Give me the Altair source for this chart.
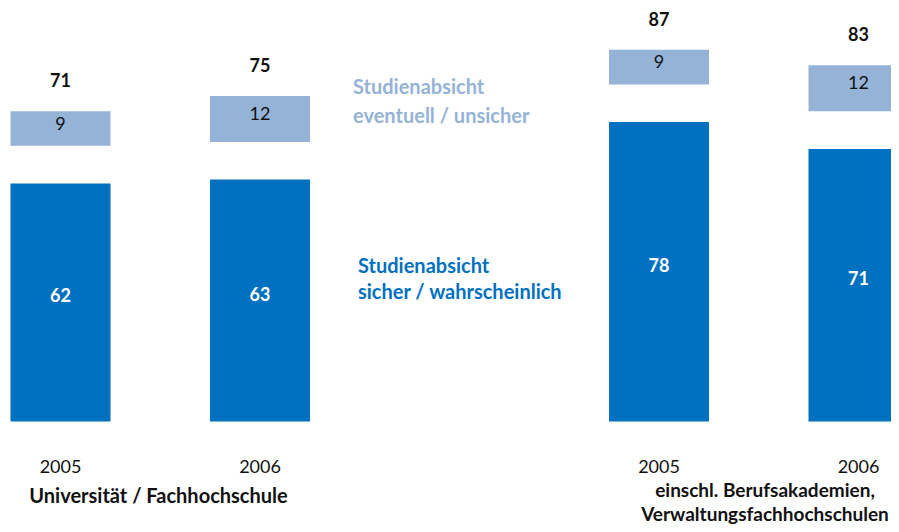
import altair as alt
import pandas as pd

# ---- data ----
group_keys = ["U", "U", "B", "B"]
years = ["2005", "2006", "2005", "2006"]
sicher = [62, 63, 78, 71]          # Studienabsicht sicher / wahrscheinlich
eventuell = [9, 12, 9, 12]         # Studienabsicht eventuell / unsicher
totals = [71, 75, 87, 83]
slot_order = ["U-2005", "U-2006", "gap", "B-2005", "B-2006"]

# ---- layout constants ----
GAP = 9.8            # visual gap (in value units) between the two stacked pieces
DARK = "#0070C0"
LIGHT = "#95B3D7"
FONT = "Lato"

keys = [f"{g}-{y}" for g, y in zip(group_keys, years)]
df = pd.DataFrame({
    "key": keys,
    "year": years,
    "sicher": sicher,
    "eventuell": eventuell,
    "total": totals,
})
df["zero"] = 0
df["s_mid"] = df["sicher"] / 2
df["e_lo"] = df["sicher"] + GAP
df["e_hi"] = df["e_lo"] + df["eventuell"]
df["e_mid"] = (df["e_lo"] + df["e_hi"]) / 2

W, H = 883, 516
xscale = alt.Scale(type="point", domain=slot_order, range=[52.5, 850.5], padding=0)
yscale = alt.Scale(domain=[-26.7, 107.7], nice=False, zero=False)
X = alt.X("key:N", scale=xscale, axis=None)

base = alt.Chart(df)

dark_bars = base.mark_bar(size=100, color=DARK).encode(
    x=X, y=alt.Y("zero:Q", scale=yscale, axis=None), y2="sicher:Q"
)
light_bars = base.mark_bar(size=100, color=LIGHT).encode(
    x=X, y=alt.Y("e_lo:Q", scale=yscale, axis=None), y2="e_hi:Q"
)
dark_labels = base.mark_text(
    font=FONT, fontSize=18, fontWeight="bold", color="white", baseline="middle", dy=-5
).encode(x=X, y=alt.Y("s_mid:Q", scale=yscale), text="sicher:Q")
light_labels = base.mark_text(
    font=FONT, fontSize=18, color="#111111", baseline="middle", dy=-4
).encode(x=X, y=alt.Y("e_mid:Q", scale=yscale), text="eventuell:Q")
total_labels = base.mark_text(
    font=FONT, fontSize=18, fontWeight="bold", color="#111111", baseline="middle", dy=-29
).encode(x=X, y=alt.Y("e_hi:Q", scale=yscale), text="total:Q")
year_labels = base.mark_text(
    font=FONT, fontSize=18, color="#111111", baseline="middle"
).encode(x=X, y=alt.value(460), text="year:N")

ann = pd.DataFrame({
    "text": [
        "Studienabsicht", "eventuell / unsicher",
        "Studienabsicht", "sicher / wahrscheinlich",
        "Universität / Fachhochschule",
        "einschl. Berufsakademien,", "Verwaltungsfachhochschulen",
    ],
    "kind": ["light", "light", "dark", "dark", "cat", "catr", "catr"],
    "px": [345, 345, 350, 350, 150.5, 757, 757],
    "py": [80, 109, 259, 285, 495, 489, 513],
})

legend_text = alt.Chart(ann).transform_filter(alt.datum.kind != "cat").transform_filter(
    alt.datum.kind != "catr"
).mark_text(
    font=FONT, fontSize=20, fontWeight="bold", align="left", baseline="middle"
).encode(
    x=alt.X("px:Q", scale=None), y=alt.Y("py:Q", scale=None), text="text:N",
    color=alt.Color("kind:N", scale=alt.Scale(domain=["light", "dark"], range=[LIGHT, DARK]), legend=None),
)
cat_text = alt.Chart(ann).transform_filter(alt.datum.kind == "cat").mark_text(
    font=FONT, fontSize=20, fontWeight="bold", align="center", baseline="alphabetic", color="#111111"
).encode(x=alt.X("px:Q", scale=None), y=alt.Y("py:Q", scale=None), text="text:N")
cat_text_r = alt.Chart(ann).transform_filter(alt.datum.kind == "catr").mark_text(
    font=FONT, fontSize=19, fontWeight="bold", align="center", baseline="alphabetic", color="#111111"
).encode(x=alt.X("px:Q", scale=None), y=alt.Y("py:Q", scale=None), text="text:N")

chart = alt.layer(
    dark_bars, light_bars, dark_labels, light_labels, total_labels, year_labels,
    legend_text, cat_text, cat_text_r
).resolve_scale(color="independent").properties(
    width=W, height=H, padding=0, autosize="none"
).configure_view(stroke=None)

chart.save("out.html", embed_options={"renderer": "svg", "actions": False})
